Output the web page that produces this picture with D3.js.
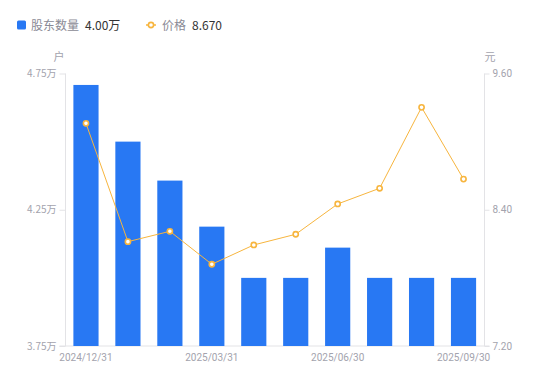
<!DOCTYPE html>
<html>
<head>
<meta charset="utf-8">
<script src="https://cdn.jsdelivr.net/npm/d3@7"></script>
<style>
  html, body { margin: 0; padding: 0; background: #fff; }
  svg { display: block; font-family: "Noto Sans CJK SC", "Noto Sans", sans-serif; }
</style>
</head>
<body>
<svg id="chart" width="550" height="381"></svg>
<script>
const categories = ["2024/12/31","2025/01/31","2025/02/28","2025/03/31","2025/04/30","2025/05/31","2025/06/30","2025/07/31","2025/08/31","2025/09/30"];
const holders = [4.708, 4.500, 4.357, 4.188, 4.00, 4.00, 4.111, 4.00, 4.00, 4.00]; // 万户
const prices = [9.161, 8.119, 8.210, 7.920, 8.090, 8.184, 8.451, 8.589, 9.302, 8.670]; // 元
const leftTicks = [3.75, 4.25, 4.75];
const rightTicks = [7.20, 8.40, 9.60];
const xLabelIdx = [0, 3, 6, 9];

const svg = d3.select("#chart");
const L = 65.5, R = 484.5, T = 73.5, B = 346;
const gray = "#a3a3ad";
const axisColor = "#e3e3e6";
const barColor = "#2878f3";
const lineColor = "#f7b53e";

const x = d3.scaleBand().domain(categories).range([L - 0.5, R]).paddingInner(0.4).paddingOuter(0.2);
const yL = d3.scaleLinear().domain([3.75, 4.75]).range([B, T]);
const yR = d3.scaleLinear().domain([7.20, 9.60]).range([B, T]);

// Left axis
const gL = svg.append("g").attr("transform", `translate(${L},0)`)
  .call(d3.axisLeft(yL).tickValues(leftTicks).tickSize(6).tickPadding(3).tickFormat(d => d3.format(".2f")(d) + "万"));
// Right axis
const gR = svg.append("g").attr("transform", `translate(${R},0)`)
  .call(d3.axisRight(yR).tickValues(rightTicks).tickSize(5).tickPadding(3).tickFormat(d3.format(".2f")));
[gL, gR].forEach(g => {
  g.select(".domain").attr("stroke", axisColor).attr("d", `M0,${T}V${B}`);
  g.selectAll(".tick line").attr("stroke", axisColor);
  g.selectAll(".tick text").attr("fill", gray).attr("font-size", 10).attr("font-family", "Roboto, 'Noto Sans CJK SC', sans-serif");
});
gL.selectAll(".tick text").attr("font-family", "'Noto Sans CJK SC', sans-serif").attr("font-size", 10);

// Bottom axis
const gB = svg.append("g").attr("transform", `translate(0,${B})`)
  .call(d3.axisBottom(x).tickValues(xLabelIdx.map(i => categories[i])).tickSize(0).tickPadding(8));
gB.select(".domain").attr("stroke", axisColor).attr("d", `M${L - 6},0H${R + 5}`);
gB.selectAll(".tick text").attr("fill", gray).attr("font-size", 10).attr("font-family", "Roboto, sans-serif");

// Unit labels
svg.append("text").attr("x", 59).attr("y", 61).attr("text-anchor", "middle").attr("fill", gray).attr("font-size", 11).text("户");
svg.append("text").attr("x", 490).attr("y", 61).attr("text-anchor", "middle").attr("fill", gray).attr("font-size", 11).text("元");

// Bars
svg.append("g").selectAll("rect").data(holders).join("rect")
  .attr("x", (d, i) => x(categories[i]))
  .attr("width", x.bandwidth())
  .attr("y", d => yL(d))
  .attr("height", d => B - yL(d))
  .attr("fill", barColor);

// Line
const cx = i => x(categories[i]) + x.bandwidth() / 2;
svg.append("path").datum(prices)
  .attr("fill", "none").attr("stroke", lineColor).attr("stroke-width", 1)
  .attr("d", d3.line().x((d, i) => cx(i)).y(d => yR(d)));
svg.append("g").selectAll("circle").data(prices).join("circle")
  .attr("cx", (d, i) => cx(i)).attr("cy", d => yR(d)).attr("r", 2.6)
  .attr("fill", "#fff").attr("stroke", lineColor).attr("stroke-width", 1.6);

// Legend
const lg = svg.append("g");
lg.append("rect").attr("x", 17).attr("y", 20.5).attr("width", 9).attr("height", 9).attr("rx", 1.5).attr("fill", barColor);
lg.append("text").attr("x", 31).attr("y", 29.5).attr("fill", "#8a8a95").attr("font-size", 12).text("股东数量");
lg.append("text").attr("x", 85).attr("y", 29.5).attr("fill", "#333").attr("font-size", 12).text(d3.format(".2f")(holders[holders.length - 1]) + "万");
lg.append("line").attr("x1", 146).attr("x2", 156).attr("y1", 25).attr("y2", 25).attr("stroke", lineColor).attr("stroke-width", 1.5);
lg.append("circle").attr("cx", 151).attr("cy", 25).attr("r", 2.6).attr("fill", "#fff").attr("stroke", lineColor).attr("stroke-width", 1.6);
lg.append("text").attr("x", 162).attr("y", 29.5).attr("fill", "#8a8a95").attr("font-size", 12).text("价格");
lg.append("text").attr("x", 192).attr("y", 29.5).attr("fill", "#333").attr("font-size", 12).text(d3.format(".3f")(prices[prices.length - 1]));
</script>
</body>
</html>
